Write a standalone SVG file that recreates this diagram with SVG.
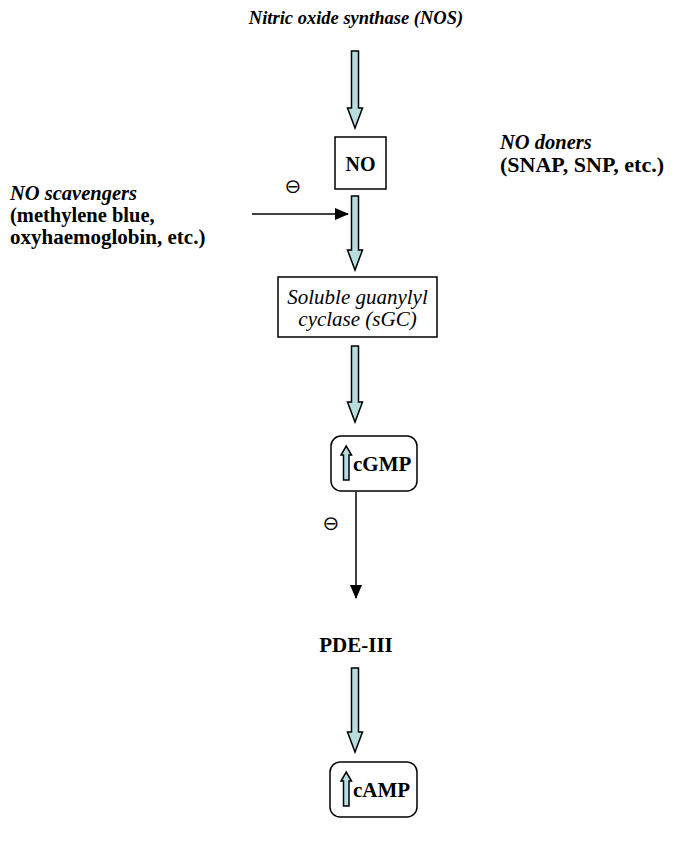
<svg xmlns="http://www.w3.org/2000/svg" width="691" height="851" viewBox="0 0 691 851">
<defs>
<style>
text{font-family:"Liberation Serif","Times New Roman",serif;fill:#000;}
.bi{font-weight:bold;font-style:italic;}
.b{font-weight:bold;}
.i{font-style:italic;}
.t{font-size:21px;}
.box{fill:#fff;stroke:#000;stroke-width:1.5;}
.barrow{fill:#b7dde0;stroke:#000;stroke-width:1.5;stroke-linejoin:miter;}
.line{stroke:#000;stroke-width:1.5;fill:none;}
.sym{font-family:"DejaVu Sans",sans-serif;font-size:20px;}
</style>
<marker id="ah" markerWidth="14" markerHeight="12" refX="13" refY="6" orient="auto" markerUnits="userSpaceOnUse" viewBox="0 0 14 12">
<path d="M0,0 L14,6 L0,12 Z" fill="#000"/>
</marker>
</defs>
<rect width="691" height="851" fill="#fff"/>

<g id="connectors">
  <path class="barrow" d="M351.5,51 H358.5 V108 H362.5 L355,128 L347.5,108 H351.5 Z"/>
  <path class="barrow" d="M351.5,196 H358.5 V250 H362.5 L355,270 L347.5,250 H351.5 Z"/>
  <path class="barrow" d="M351.5,346 H358.5 V402 H362.5 L355,422 L347.5,402 H351.5 Z"/>
  <path class="barrow" d="M351.5,668 H358.5 V732 H362.5 L355,752 L347.5,732 H351.5 Z"/>
  <line class="line" x1="252" y1="214" x2="348" y2="214" marker-end="url(#ah)"/>
  <line class="line" x1="356" y1="492" x2="356" y2="598" marker-end="url(#ah)"/>
  <text class="sym" x="293" y="193" text-anchor="middle">⊖</text>
  <text class="sym" x="331" y="530" text-anchor="middle">⊖</text>
</g>

<g id="nos">
  <text class="bi" x="356" y="24" font-size="18.5" text-anchor="middle">Nitric oxide synthase (NOS)</text>
</g>

<g id="no">
  <rect class="box" x="335" y="137" width="51" height="52"/>
  <text class="b" x="360.5" y="171" font-size="20" text-anchor="middle">NO</text>
</g>

<g id="donors">
  <text class="bi" x="500" y="149" font-size="20.5">NO doners</text>
  <text class="b" x="500" y="172" font-size="22">(SNAP, SNP, etc.)</text>
</g>

<g id="scavengers">
  <text class="bi" x="10" y="200" font-size="20.5">NO scavengers</text>
  <text class="b" x="10" y="222" font-size="20.5">(methylene blue,</text>
  <text class="b" x="10" y="244" font-size="21">oxyhaemoglobin, etc.)</text>
</g>

<g id="sgc">
  <rect class="box" x="278" y="277" width="159" height="60"/>
  <text class="i t" x="357.5" y="304" text-anchor="middle">Soluble guanylyl</text>
  <text class="i t" x="357.5" y="326" text-anchor="middle">cyclase (sGC)</text>
</g>

<g id="cgmp">
  <rect class="box" x="331" y="436" width="86" height="55" rx="10" ry="10"/>
  <path class="barrow" d="M343.5,480 V455 H341 L346.25,446 L351.5,455 H349 V480 Z" stroke-width="1.3"/>
  <text class="b t" x="353" y="471">cGMP</text>
</g>

<g id="pde">
  <text class="b t" x="356" y="652" text-anchor="middle">PDE-III</text>
</g>

<g id="camp">
  <rect class="box" x="330" y="762" width="87" height="55" rx="10" ry="10"/>
  <path class="barrow" d="M343.5,806 V781 H341 L346.25,772 L351.5,781 H349 V806 Z" stroke-width="1.3"/>
  <text class="b t" x="353" y="797">cAMP</text>
</g>
</svg>
